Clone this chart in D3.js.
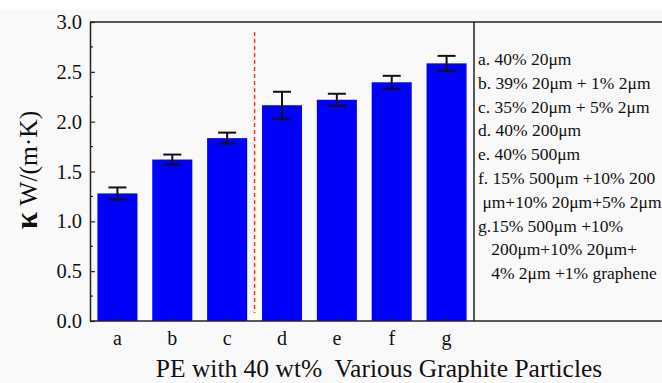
<!DOCTYPE html>
<html lang="en">
<head>
    <meta charset="UTF-8">
    <script src="https://d3js.org/d3.v7.min.js"></script>
    <title>Thermal conductivity bars</title>
    <style>
        body { margin: 0; background: #fff; }
        svg text { font-family: "Liberation Serif", "Times New Roman", serif; fill: #111; }
    </style>
</head>
<body>
    <div id="chart"></div>
    <script>
        // data
        const samples = ['a', 'b', 'c', 'd', 'e', 'f', 'g'];
        const kValues = [1.28, 1.62, 1.835, 2.165, 2.22, 2.395, 2.585];
        const kErrors = [0.06, 0.05, 0.055, 0.135, 0.06, 0.065, 0.075];
        const yTicks = [0, 0.5, 1.0, 1.5, 2.0, 2.5, 3.0];
        const legendLines = [
            'a. 40% 20\u03bcm',
            'b. 39% 20\u03bcm + 1% 2\u03bcm',
            'c. 35% 20\u03bcm + 5% 2\u03bcm',
            'd. 40% 200\u03bcm',
            'e. 40% 500\u03bcm',
            'f. 15% 500\u03bcm +10% 200',
            ' \u03bcm+10% 20\u03bcm+5% 2\u03bcm',
            'g.15% 500\u03bcm +10%',
            '   200\u03bcm+10% 20\u03bcm+',
            '   4% 2\u03bcm +1% graphene'
        ];

        const w = 662, h = 383;
        const pLeft = 90, pRight = 474, pTop = 22, pBottom = 321;

        const svg = d3.select('#chart').append('svg')
            .attr('width', w).attr('height', h);

        svg.append('rect').attr('x', 0).attr('y', 10).attr('width', w).attr('height', h - 10)
            .attr('fill', '#f9f9f9');

        const x = d3.scaleBand().domain(samples).range([pLeft, pRight])
            .paddingInner(0.27).paddingOuter(0.135);
        const y = d3.scaleLinear().domain([0, 3]).range([pBottom, pTop]);

        // bars
        svg.selectAll('rect.bar')
            .data(samples)
            .enter().append('rect')
            .attr('class', 'bar')
            .attr('x', d => x(d))
            .attr('y', (d, i) => y(kValues[i]))
            .attr('width', x.bandwidth())
            .attr('height', (d, i) => pBottom - y(kValues[i]))
            .attr('fill', '#0000ff');

        // error bars
        const eb = svg.append('g').attr('stroke', '#111').attr('stroke-width', 2);
        samples.forEach((s, i) => {
            const cx = x(s) + x.bandwidth() / 2;
            const hi = y(kValues[i] + kErrors[i]);
            const lo = y(kValues[i] - kErrors[i]);
            eb.append('line').attr('x1', cx).attr('x2', cx).attr('y1', hi).attr('y2', lo);
            eb.append('line').attr('x1', cx - 9).attr('x2', cx + 9).attr('y1', hi).attr('y2', hi);
            eb.append('line').attr('x1', cx - 9).attr('x2', cx + 9).attr('y1', lo).attr('y2', lo);
        });

        // red divider between c and d
        const divX = x('d') - x.step() * x.paddingInner() / 2;
        svg.append('line')
            .attr('x1', divX).attr('x2', divX)
            .attr('y1', y(2.9)).attr('y2', y(0.08))
            .attr('stroke', '#ff2a2a').attr('stroke-width', 1.5)
            .attr('stroke-dasharray', '4,3');

        // frame
        const frame = svg.append('g').attr('stroke', '#222').attr('stroke-width', 1.5);
        frame.append('line').attr('x1', pLeft).attr('x2', w).attr('y1', pTop).attr('y2', pTop);
        frame.append('line').attr('x1', pLeft).attr('x2', w).attr('y1', pBottom).attr('y2', pBottom);
        frame.append('line').attr('x1', pRight).attr('x2', pRight).attr('y1', pTop).attr('y2', pBottom);

        // y axis
        const yAxis = d3.axisLeft(y).tickValues(yTicks).tickFormat(d3.format('.1f'))
            .tickSizeInner(-5).tickSizeOuter(0).tickPadding(8);
        const gy = svg.append('g').attr('transform', 'translate(' + pLeft + ',0)').call(yAxis);
        gy.attr('font-family', null);
        gy.select('.domain').attr('stroke', '#222').attr('stroke-width', 1.5);
        gy.selectAll('.tick line').attr('stroke', '#222').attr('stroke-width', 1.2);
        gy.selectAll('text').style('font-size', '20.5px').attr('fill', '#111');

        // minor y ticks
        const minor = d3.range(0.25, 3, 0.5);
        svg.append('g').selectAll('line').data(minor).enter().append('line')
            .attr('x1', pLeft).attr('x2', pLeft + 3)
            .attr('y1', d => y(d)).attr('y2', d => y(d))
            .attr('stroke', '#222').attr('stroke-width', 1.2);

        // x axis
        const xAxis = d3.axisBottom(x).tickSizeInner(-5).tickSizeOuter(0).tickPadding(10);
        const gx = svg.append('g').attr('transform', 'translate(0,' + pBottom + ')').call(xAxis);
        gx.attr('font-family', null);
        gx.select('.domain').remove();
        gx.selectAll('.tick line').attr('stroke', '#222').attr('stroke-width', 1.2);
        gx.selectAll('text').style('font-size', '20px').attr('fill', '#111');

        // axis titles
        svg.append('text')
            .attr('x', 379).attr('y', 377)
            .attr('text-anchor', 'middle')
            .style('font-size', '25.5px')
            .text('PE with 40 wt%\u00a0 Various Graphite Particles');

        const yt = svg.append('text')
            .attr('transform', 'translate(37,170) rotate(-90)')
            .attr('text-anchor', 'middle')
            .style('font-size', '25.5px');
        yt.append('tspan').style('font-weight', 'bold').style('font-size', '31px').text('\u03ba');
        yt.append('tspan').text(' W/(m\u00b7K)');

        // legend text
        svg.append('g').selectAll('text').data(legendLines).enter().append('text')
            .attr('x', 478)
            .attr('y', (d, i) => 65 + i * 23.8)
            .style('font-size', '17.5px')
            .style('white-space', 'pre')
            .text(d => d);
    </script>
</body>
</html>
